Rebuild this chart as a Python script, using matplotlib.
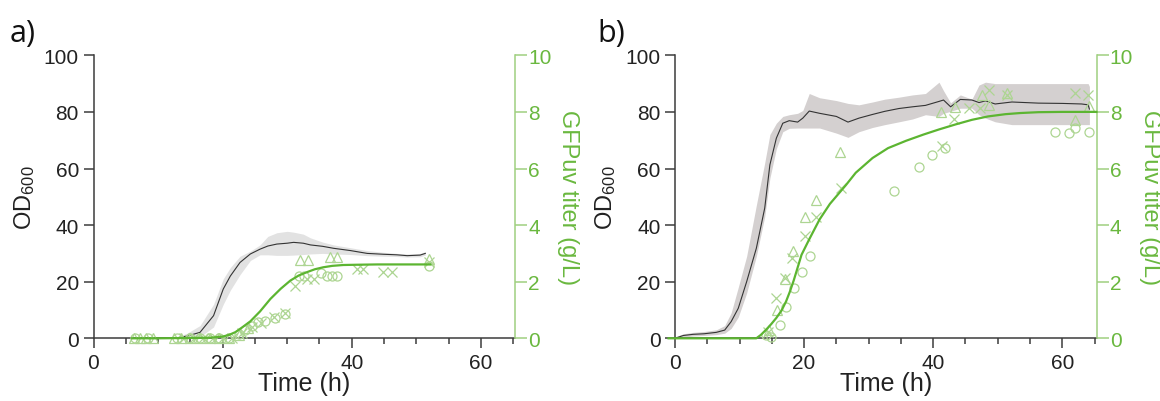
import numpy as np
import matplotlib
matplotlib.use("Agg")
import matplotlib.pyplot as plt
from matplotlib.ticker import MultipleLocator

plt.rcParams['font.family'] = ['Liberation Sans', 'DejaVu Sans']
plt.rcParams['mathtext.default'] = 'regular'

GREEN_LINE = "#5cb531"
GREEN_MARK = "#add592"
GREEN_AXIS = "#9fcf80"
GREEN_TEXT = "#6ab83f"
DARK = "#3c3c3c"

# panel a - OD600 mean curve and band
a_time = [6, 10, 13, 14.5, 16.5, 18.6, 20.1, 21.2, 22.7, 24.3, 25.8, 27, 28.4, 30, 31,
          32.5, 33.6, 35.5, 37.2, 39.8, 42.4, 44.9, 47, 48.6, 50.6, 51.4]
a_od = [0, 0, 0.2, 0.8, 2.1, 8, 17.4, 22, 26.8, 29.8, 31.5, 32.6, 33.3, 33.6, 33.9,
        33.6, 33, 32.5, 31.8, 31, 30, 29.7, 29.5, 29.2, 29.4, 30]
a_upper = [0.3, 0.3, 0.6, 1.8, 4.5, 12, 21, 25, 29, 30.8, 33, 36, 37.3, 37.8, 37.5,
           36.8, 35.5, 34, 33, 32, 31, 30.4, 30, 29.8, 30, 30.6]
a_lower = [0, 0, 0, 0, 0.5, 4, 12, 17, 22.5, 27.5, 29.5, 29.5, 29.3, 29.3, 29.4,
           29.6, 29.8, 30, 29.8, 29.6, 29.2, 29, 28.9, 28.7, 28.8, 29.4]

# panel a - GFPuv fit
a_fit_t = [6, 10, 18, 20, 21, 22, 23, 24.3, 25.8, 27.4, 29, 30.5, 31.8, 33.1, 34.3,
           35.6, 37, 38.7, 41, 44, 48, 52.2]
a_fit_y = [0, 0, 0.02, 0.06, 0.12, 0.22, 0.38, 0.6, 0.95, 1.39, 1.75, 2.04, 2.22, 2.34,
           2.44, 2.51, 2.56, 2.59, 2.6, 2.61, 2.61, 2.61]

# panel a - replicates
a_circ_t = [6.5, 8.5, 13, 15, 16.5, 18, 19.5, 21, 22.5, 23.5, 24.5, 25.5, 26.6, 28.1,
            29.6, 31.8, 32.6, 35.2, 36.2, 37, 37.7, 51.9]
a_circ_y = [0, 0, 0, 0, 0, 0, 0, 0, 0.15, 0.3, 0.45, 0.56, 0.62, 0.73, 0.85, 2.2, 2.2,
            2.3, 2.2, 2.2, 2.2, 2.55]
a_tri_t = [6.2, 7.2, 8.2, 9.2, 12.5, 13.5, 15, 16.5, 18, 19.5, 21, 22.5, 24, 32, 33.3,
           36.7, 37.7, 51.9]
a_tri_y = [0, 0, 0, 0, 0, 0, 0, 0, 0, 0, 0, 0.1, 0.35, 2.75, 2.75, 2.88, 2.88, 2.8]
a_x_t = [14, 15.5, 17, 18.5, 20, 21.5, 23, 24.5, 26, 28, 29.6, 31.2, 33, 34.1, 40.8,
         41.8, 44.9, 46.2, 51.9]
a_x_y = [0, 0, 0, 0, 0, 0, 0.2, 0.4, 0.55, 0.75, 0.88, 1.86, 2.1, 2.1, 2.45, 2.45, 2.33,
         2.33, 2.7]

# panel b - OD600 mean curve and band
b_time = [0, 1.3, 2.8, 4.5, 6.4, 7.7, 8.7, 9.8, 11.1, 12.6, 13.9, 14.7, 15.7, 16.7, 17.7,
          19, 19.8, 20.8, 22.4, 25, 26.8, 28.5, 30.6, 32.5, 34.7, 36.8, 38.8, 40.9, 41.6,
          42.7, 44.2, 46, 47.1, 48.1, 49.6, 52.2, 56.3, 60, 63, 64, 64.2]
b_od = [0, 1, 1.4, 1.6, 2.1, 2.9, 5.9, 10.6, 20, 31.8, 46, 61.3, 70.7, 76, 76.9, 76.4,
        77.8, 80.3, 79.5, 78.4, 76.4, 77.8, 79.1, 80.2, 81.2, 81.8, 82.3, 83.7, 84.2,
        81.8, 84.4, 84.2, 83.3, 83.9, 82.8, 83.5, 83.1, 83, 82.8, 82.5, 81]
b_upper = [0.5, 1.6, 2.1, 2.4, 3, 4.5, 9, 18, 29, 47, 62, 72, 76, 78.4, 79, 79.5, 80.5,
           86.5, 85, 84, 83, 82.5, 83.5, 84.5, 85.2, 86, 86.5, 90.5, 87.5, 83.2, 86,
           84.5, 89.5, 90.5, 90, 90, 90, 90, 90, 90, 89]
b_lower = [0, 0.4, 0.8, 1.0, 1.3, 1.8, 3.5, 7.5, 16, 29, 43, 56.6, 67, 73, 74.2, 74.3,
           74.3, 74.3, 74.3, 72.5, 71, 73, 74.5, 75.5, 76.5, 77.5, 79, 78.4, 79.5, 80.2,
           81.3, 81.3, 79, 77.8, 76.5, 75.5, 75.5, 75.5, 75.5, 75.5, 75.5]

# panel b - GFPuv fit
b_fit_t = [-1, 12.6, 13.3, 14.1, 14.9, 15.7, 16.5, 17.2, 17.8, 18.4, 19.0, 19.6, 20.8,
           22.4, 24, 26.5, 28, 30.6, 33, 35.8, 38.5, 40.9, 43.5, 46, 48.5, 51.2, 53.5,
           56.3, 60, 65.3]
b_fit_y = [0, 0, 0.12, 0.3, 0.5, 0.72, 0.98, 1.3, 1.65, 2.05, 2.5, 2.95, 3.5, 4.2, 4.75,
           5.42, 5.85, 6.37, 6.72, 6.98, 7.2, 7.38, 7.56, 7.72, 7.84, 7.92, 7.96, 7.99,
           8.0, 8.0]

# panel b - replicates
b_circ_t = [14.1, 14.8, 16.2, 17.2, 18.5, 19.6, 20.9, 34, 37.8, 39.8, 41.8, 58.9, 61.1,
            62, 64.2]
b_circ_y = [0.12, 0.05, 0.47, 1.12, 1.77, 2.36, 2.91, 5.22, 6.04, 6.49, 6.72, 7.29, 7.25,
            7.43, 7.29]
b_tri_t = [14.5, 15.8, 17, 18.3, 20.1, 21.8, 25.6, 41.2, 43.4, 47.5, 48.6, 51.4, 62, 64.2]
b_tri_y = [0.3, 1.0, 2.1, 3.09, 4.27, 4.89, 6.58, 8.0, 8.19, 8.61, 8.25, 8.67, 7.72, 8.2]
b_x_t = [14.4, 15.7, 17, 18.2, 20.2, 21.9, 25.7, 41.3, 43.2, 45.6, 47.3, 48.7, 51.4,
         62, 64]
b_x_y = [0.24, 1.41, 2.12, 2.85, 3.6, 4.27, 5.3, 6.81, 7.76, 8.14, 8.14, 8.78, 8.58,
         8.67, 8.58]

W, H = 1160, 402


def setup_axes(fig, left_px, right_zero_dark):
    ax = fig.add_axes([left_px / W, 1 - 339.3 / H, 421.5 / W, 283 / H])
    ax.set_xlim(0, 65.3)
    ax.set_ylim(0, 100)
    ax.spines['top'].set_visible(False)
    ax.spines['right'].set_visible(False)
    for s in ('left', 'bottom'):
        ax.spines[s].set_color(DARK)
        ax.spines[s].set_linewidth(1.1)
    ax.xaxis.set_major_locator(MultipleLocator(20))
    ax.xaxis.set_minor_locator(MultipleLocator(5))
    ax.yaxis.set_major_locator(MultipleLocator(20))
    ax.tick_params(axis='x', which='major', length=7.2, width=1.1, color=DARK,
                   labelsize=15, labelcolor="#222222", pad=3.5)
    ax.tick_params(axis='x', which='minor', length=4.5, width=1.1, color=DARK)
    ax.tick_params(axis='y', length=7.5, width=1.1, color=DARK, labelsize=15,
                   labelcolor="#222222", pad=3)
    ax.set_xlabel("Time (h)", fontsize=18, color="#222222", labelpad=-1)
    ax.set_ylabel("OD$_{600}$", fontsize=17, color="#222222", labelpad=5)

    ax2 = ax.twinx()
    ax2.set_ylim(0, 10)
    for s in ('left', 'top', 'bottom'):
        ax2.spines[s].set_visible(False)
    ax2.spines['right'].set_color(GREEN_AXIS)
    ax2.spines['right'].set_linewidth(1.1)
    ax2.yaxis.set_major_locator(MultipleLocator(2))
    ax2.tick_params(axis='y', length=8.5, width=1.1, color=GREEN_AXIS, labelsize=15,
                    labelcolor=GREEN_TEXT, pad=1)
    if right_zero_dark:
        ax2.get_yticklabels()[0].set_color("#222222")
    ax2.set_ylabel("GFPuv titer (g/L)", fontsize=17, color=GREEN_TEXT, rotation=270,
                   labelpad=20)
    return ax, ax2


def draw_panel(ax, ax2, t, od, up, lo, band_color, fit_t, fit_y, reps):
    ax.fill_between(t, lo, up, color=band_color, lw=0, zorder=1)
    ax.plot(t, od, color="#333333", lw=0.8, zorder=2)
    mk = dict(ls='none', mfc='none', mec=GREEN_MARK, ms=6.5, mew=0.9, clip_on=False)
    for (rt, ry), m in zip(reps, ['o', '^', 'x']):
        ax2.plot(rt, ry, marker=m, **mk)
    ax2.plot(fit_t, fit_y, color=GREEN_LINE, lw=1.6, clip_on=False, zorder=3)


fig = plt.figure(figsize=(W / 100, H / 100), dpi=100)

ax_a, ax_a2 = setup_axes(fig, 93.5, True)
draw_panel(ax_a, ax_a2, a_time, a_od, a_upper, a_lower, "#e2e2e2", a_fit_t, a_fit_y,
           [(a_circ_t, a_circ_y), (a_tri_t, a_tri_y), (a_x_t, a_x_y)])

ax_b, ax_b2 = setup_axes(fig, 675, False)
draw_panel(ax_b, ax_b2, b_time, b_od, b_upper, b_lower, "#d4d0d0", b_fit_t, b_fit_y,
           [(b_circ_t, b_circ_y), (b_tri_t, b_tri_y), (b_x_t, b_x_y)])

fig.text(10 / W, 1 - 34 / H, "a)", fontsize=22, family=['Open Sans', 'DejaVu Sans'],
         va='center', ha='left', color="#111111")
fig.text(597 / W, 1 - 34 / H, "b)", fontsize=22, family=['Open Sans', 'DejaVu Sans'],
         va='center', ha='left', color="#111111")

fig.savefig("out.png", dpi=100)
